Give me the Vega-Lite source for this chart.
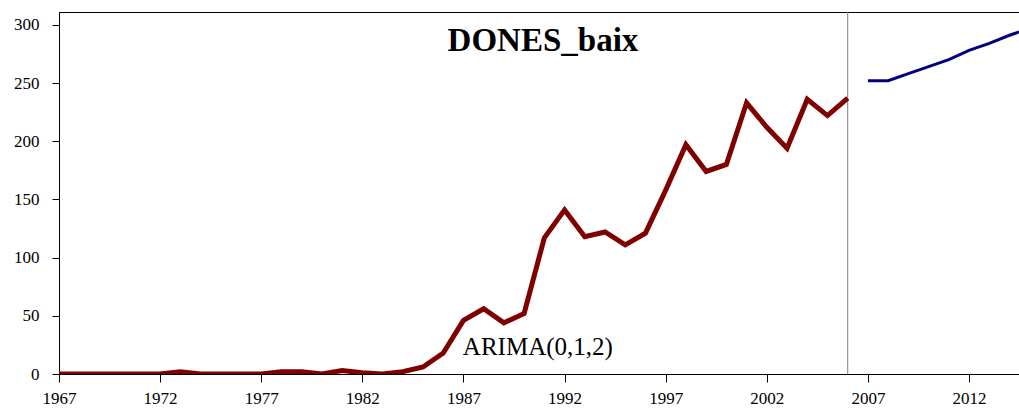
{
  "$schema": "https://vega.github.io/schema/vega-lite/v6.json",
  "autosize": "none",
  "width": 960,
  "height": 362,
  "padding": {"left": 59, "top": 12, "right": 0, "bottom": 36},
  "background": "white",
  "config": {
    "view": {"stroke": "black", "strokeWidth": 1},
    "axis": {
      "labelFont": "Liberation Serif",
      "labelFontSize": 17,
      "labelColor": "black",
      "domainColor": "black",
      "tickColor": "black",
      "grid": false,
      "title": null
    }
  },
  "datasets": {
    "series": [
      {"year": 1967, "value": 0, "series": "obs"},
      {"year": 1968, "value": 0, "series": "obs"},
      {"year": 1969, "value": 0, "series": "obs"},
      {"year": 1970, "value": 0, "series": "obs"},
      {"year": 1971, "value": 0, "series": "obs"},
      {"year": 1972, "value": 0, "series": "obs"},
      {"year": 1973, "value": 2, "series": "obs"},
      {"year": 1974, "value": 0, "series": "obs"},
      {"year": 1975, "value": 0, "series": "obs"},
      {"year": 1976, "value": 0, "series": "obs"},
      {"year": 1977, "value": 0, "series": "obs"},
      {"year": 1978, "value": 2, "series": "obs"},
      {"year": 1979, "value": 2, "series": "obs"},
      {"year": 1980, "value": 0, "series": "obs"},
      {"year": 1981, "value": 3, "series": "obs"},
      {"year": 1982, "value": 1, "series": "obs"},
      {"year": 1983, "value": 0, "series": "obs"},
      {"year": 1984, "value": 2, "series": "obs"},
      {"year": 1985, "value": 6, "series": "obs"},
      {"year": 1986, "value": 18, "series": "obs"},
      {"year": 1987, "value": 46, "series": "obs"},
      {"year": 1988, "value": 56, "series": "obs"},
      {"year": 1989, "value": 44, "series": "obs"},
      {"year": 1990, "value": 52, "series": "obs"},
      {"year": 1991, "value": 117, "series": "obs"},
      {"year": 1992, "value": 141, "series": "obs"},
      {"year": 1993, "value": 118, "series": "obs"},
      {"year": 1994, "value": 122, "series": "obs"},
      {"year": 1995, "value": 111, "series": "obs"},
      {"year": 1996, "value": 121, "series": "obs"},
      {"year": 1997, "value": 158, "series": "obs"},
      {"year": 1998, "value": 197, "series": "obs"},
      {"year": 1999, "value": 174, "series": "obs"},
      {"year": 2000, "value": 180, "series": "obs"},
      {"year": 2001, "value": 233, "series": "obs"},
      {"year": 2002, "value": 212, "series": "obs"},
      {"year": 2003, "value": 194, "series": "obs"},
      {"year": 2004, "value": 236, "series": "obs"},
      {"year": 2005, "value": 222, "series": "obs"},
      {"year": 2006, "value": 237, "series": "obs"},
      {"year": 2007, "value": 252, "series": "fc"},
      {"year": 2008, "value": 252, "series": "fc"},
      {"year": 2009, "value": 258, "series": "fc"},
      {"year": 2010, "value": 264, "series": "fc"},
      {"year": 2011, "value": 270, "series": "fc"},
      {"year": 2012, "value": 278, "series": "fc"},
      {"year": 2013, "value": 284, "series": "fc"},
      {"year": 2014, "value": 291, "series": "fc"},
      {"year": 2015, "value": 297, "series": "fc"}
    ]
  },
  "layer": [
    {
      "data": {"values": [{"year": 2006}]},
      "mark": {"type": "rule", "color": "#808080", "strokeWidth": 1},
      "encoding": {
        "x": {"field": "year", "type": "quantitative"}
      }
    },
    {
      "data": {"name": "series"},
      "mark": {"type": "line", "clip": true},
      "encoding": {
        "x": {
          "field": "year",
          "type": "quantitative",
          "scale": {"domain": [1967, 2014.47], "nice": false, "zero": false},
          "axis": {
            "values": [1967, 1972, 1977, 1982, 1987, 1992, 1997, 2002, 2007, 2012],
            "format": "d",
            "tickSize": 8,
            "labelPadding": 8,
            "labelFlush": false,
            "labelOverlap": false
          }
        },
        "y": {
          "field": "value",
          "type": "quantitative",
          "scale": {"domain": [0, 311], "nice": false},
          "axis": {
            "values": [0, 50, 100, 150, 200, 250, 300],
            "tickSize": 7,
            "labelPadding": 13
          }
        },
        "detail": {"field": "series", "type": "nominal"},
        "color": {
          "field": "series",
          "type": "nominal",
          "scale": {"domain": ["obs", "fc"], "range": ["#800000", "#000080"]},
          "legend": null
        },
        "strokeWidth": {
          "field": "series",
          "type": "nominal",
          "scale": {"domain": ["obs", "fc"], "range": [5, 3]},
          "legend": null
        }
      }
    },
    {
      "data": {"values": [{"label": "DONES_baix", "year": 1990.93, "value": 286}]},
      "mark": {"type": "text", "font": "Liberation Serif", "fontSize": 33, "fontWeight": "bold", "align": "center", "baseline": "middle", "color": "black"},
      "encoding": {
        "x": {"field": "year", "type": "quantitative"},
        "y": {"field": "value", "type": "quantitative"},
        "text": {"field": "label"}
      }
    },
    {
      "data": {"values": [{"label": "ARIMA(0,1,2)", "year": 1986.97, "value": 23}]},
      "mark": {"type": "text", "font": "Liberation Serif", "fontSize": 25, "align": "left", "baseline": "middle", "color": "black"},
      "encoding": {
        "x": {"field": "year", "type": "quantitative"},
        "y": {"field": "value", "type": "quantitative"},
        "text": {"field": "label"}
      }
    }
  ]
}
